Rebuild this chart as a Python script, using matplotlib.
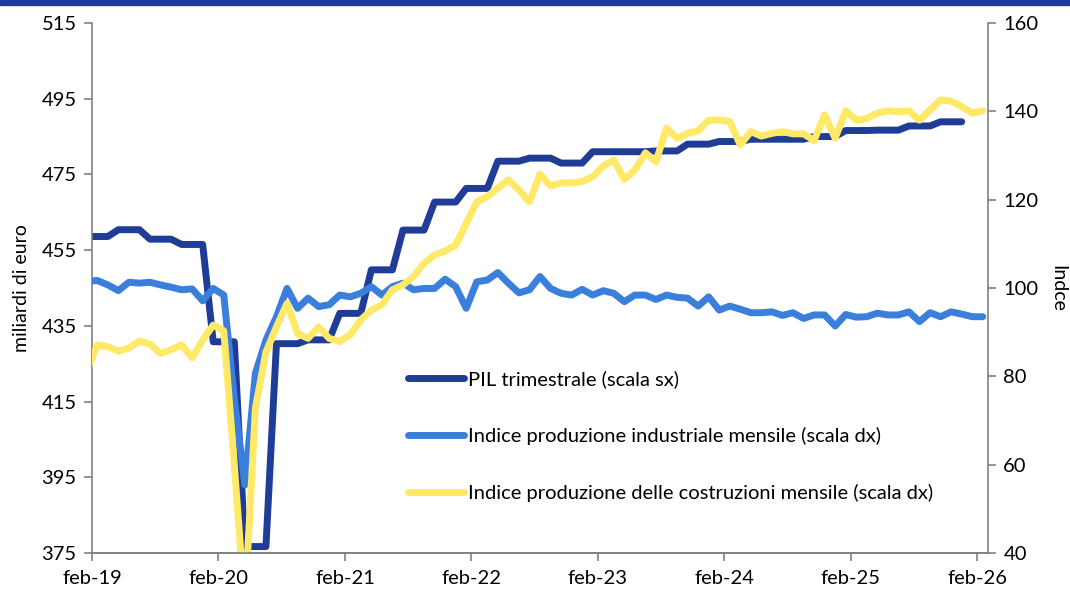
import numpy as np
import matplotlib
matplotlib.use("Agg")
import matplotlib.pyplot as plt

plt.rcParams['font.family'] = ['Lato', 'DejaVu Sans']

# PIL trimestrale (miliardi di euro), Q1 2019 .. Q4 2025
pil_quarterly = [458.6, 460.4, 457.9, 456.5, 430.8, 376.7, 430.3, 431.3,
                 438.3, 449.8, 460.3, 467.7, 471.3, 478.5, 479.3, 478.0,
                 481.0, 481.0, 481.2, 483.0, 483.7, 484.3, 484.3, 485.0,
                 486.6, 486.7, 487.8, 488.9]

# Indice produzione industriale mensile, gen-19 .. feb-26
ind_prod = [101.5,
            101.7, 100.7, 99.4, 101.3, 101.1, 101.3, 100.7, 100.2, 99.6, 99.8, 97.1, 99.9,
            98.4, 75.0, 55.4, 80.7, 88.2, 93.5, 99.9, 95.4, 97.7, 95.8, 96.2, 98.4,
            98.0, 98.8, 100.3, 98.4, 100.3, 101.1, 99.6, 99.9, 99.9, 102.0, 100.3, 95.4,
            101.4, 101.8, 103.5, 101.1, 98.9, 99.6, 102.6, 99.9, 98.8, 98.4, 99.7, 98.4,
            99.4, 98.8, 96.9, 98.4, 98.4, 97.4, 98.4, 97.9, 97.7, 95.9, 98.0, 95.0,
            95.9, 95.2, 94.4, 94.4, 94.6, 93.8, 94.4, 93.1, 93.9, 93.9, 91.4, 94.0,
            93.4, 93.5, 94.3, 93.9, 93.9, 94.6, 92.4, 94.4, 93.5, 94.6, 94.1, 93.5,
            93.5]

# Indice produzione delle costruzioni mensile, gen-19 .. feb-26
costr = [81.1,
         87.1, 86.7, 85.7, 86.4, 88.0, 87.3, 85.2, 86.0, 87.1, 84.2, 88.2, 91.6,
         90.3, 60.0, 28.0, 72.8, 85.5, 91.2, 96.5, 89.7, 88.6, 91.2, 88.6, 87.9,
         89.4, 92.8, 95.0, 96.2, 99.6, 100.7, 102.6, 105.6, 107.5, 108.4, 109.7, 114.6,
         119.5, 120.7, 122.6, 124.5, 122.2, 119.5, 125.8, 123.1, 123.8, 123.8, 124.1, 125.2,
         127.6, 129.0, 124.6, 126.7, 130.6, 128.6, 136.2, 133.9, 135.0, 135.6, 138.0, 138.0,
         137.7, 132.4, 135.4, 134.4, 135.0, 135.4, 134.9, 134.9, 133.4, 139.2, 133.9, 140.1,
         138.0, 138.4, 139.6, 140.1, 139.9, 140.1, 138.0, 140.3, 142.6, 142.3, 141.1, 139.6,
         140.1]

tick_labels = ["feb-19", "feb-20", "feb-21", "feb-22", "feb-23", "feb-24", "feb-25", "feb-26"]

labels = ["PIL trimestrale (scala sx)",
          "Indice produzione industriale mensile (scala dx)",
          "Indice produzione delle costruzioni mensile (scala dx)"]
colors = ["#1F3C96", "#3A7FDB", "#FFE966"]

# monthly positions (month index from feb-19, plotted mid-month)
pil_monthly = np.repeat(pil_quarterly, 3)
x_pil = np.arange(-1, len(pil_monthly) - 1) + 0.5
x_idx = np.arange(-1, len(ind_prod) - 1) + 0.5

fig = plt.figure(figsize=(10.7, 5.9), dpi=100)
ax = fig.add_axes([92 / 1070, 1 - 553 / 590, (988 - 92) / 1070, (553 - 23) / 590])
ax2 = ax.twinx()

line_kw = dict(lw=5, solid_capstyle='round', solid_joinstyle='round')
l1, = ax.plot(x_pil, pil_monthly, color=colors[0], label=labels[0], **line_kw)
l2, = ax2.plot(x_idx, ind_prod, color=colors[1], label=labels[1], **line_kw)
l3, = ax2.plot(x_idx, costr, color=colors[2], label=labels[2], **line_kw)

ax.set_xlim(0, 85)
ax.set_ylim(375, 515)
ax.set_yticks(np.arange(375, 516, 20))
ax2.set_ylim(40, 160)
ax2.set_yticks(np.arange(40, 161, 20))
ax.set_xticks(np.arange(0, 85, 12))
ax.set_xticklabels(tick_labels)

spine_col = "#808080"
fs = 14.5
for a in (ax, ax2):
    a.spines['top'].set_visible(False)
    for s in ('left', 'right', 'bottom'):
        a.spines[s].set_color(spine_col)
        a.spines[s].set_linewidth(1.2)
    a.tick_params(axis='both', colors=spine_col, labelcolor='black', labelsize=fs,
                  length=6, width=1.2, direction='out')
ax.spines['right'].set_visible(False)
ax2.spines['left'].set_visible(False)
ax.tick_params(axis='x', pad=6)
ax.tick_params(axis='y', pad=5)
ax2.tick_params(axis='y', pad=5)

ax.set_ylabel("miliardi di euro", fontsize=14, labelpad=8)
ax2.set_ylabel("Indce", fontsize=14, rotation=270, labelpad=20)

leg = ax2.legend([l1, l2, l3], labels, loc='upper left',
                 bbox_to_anchor=(408 / 1070, 1 - 370 / 590), bbox_transform=fig.transFigure,
                 frameon=False, fontsize=fs, handlelength=2.8, handletextpad=0.2,
                 labelspacing=1.94, borderpad=0, borderaxespad=0)

# top band
fig.patches.append(plt.Rectangle((0, 1 - 5 / 590), 1, 5 / 590, transform=fig.transFigure,
                                 color="#203A96", zorder=10))

fig.savefig("out.png", dpi=100)
